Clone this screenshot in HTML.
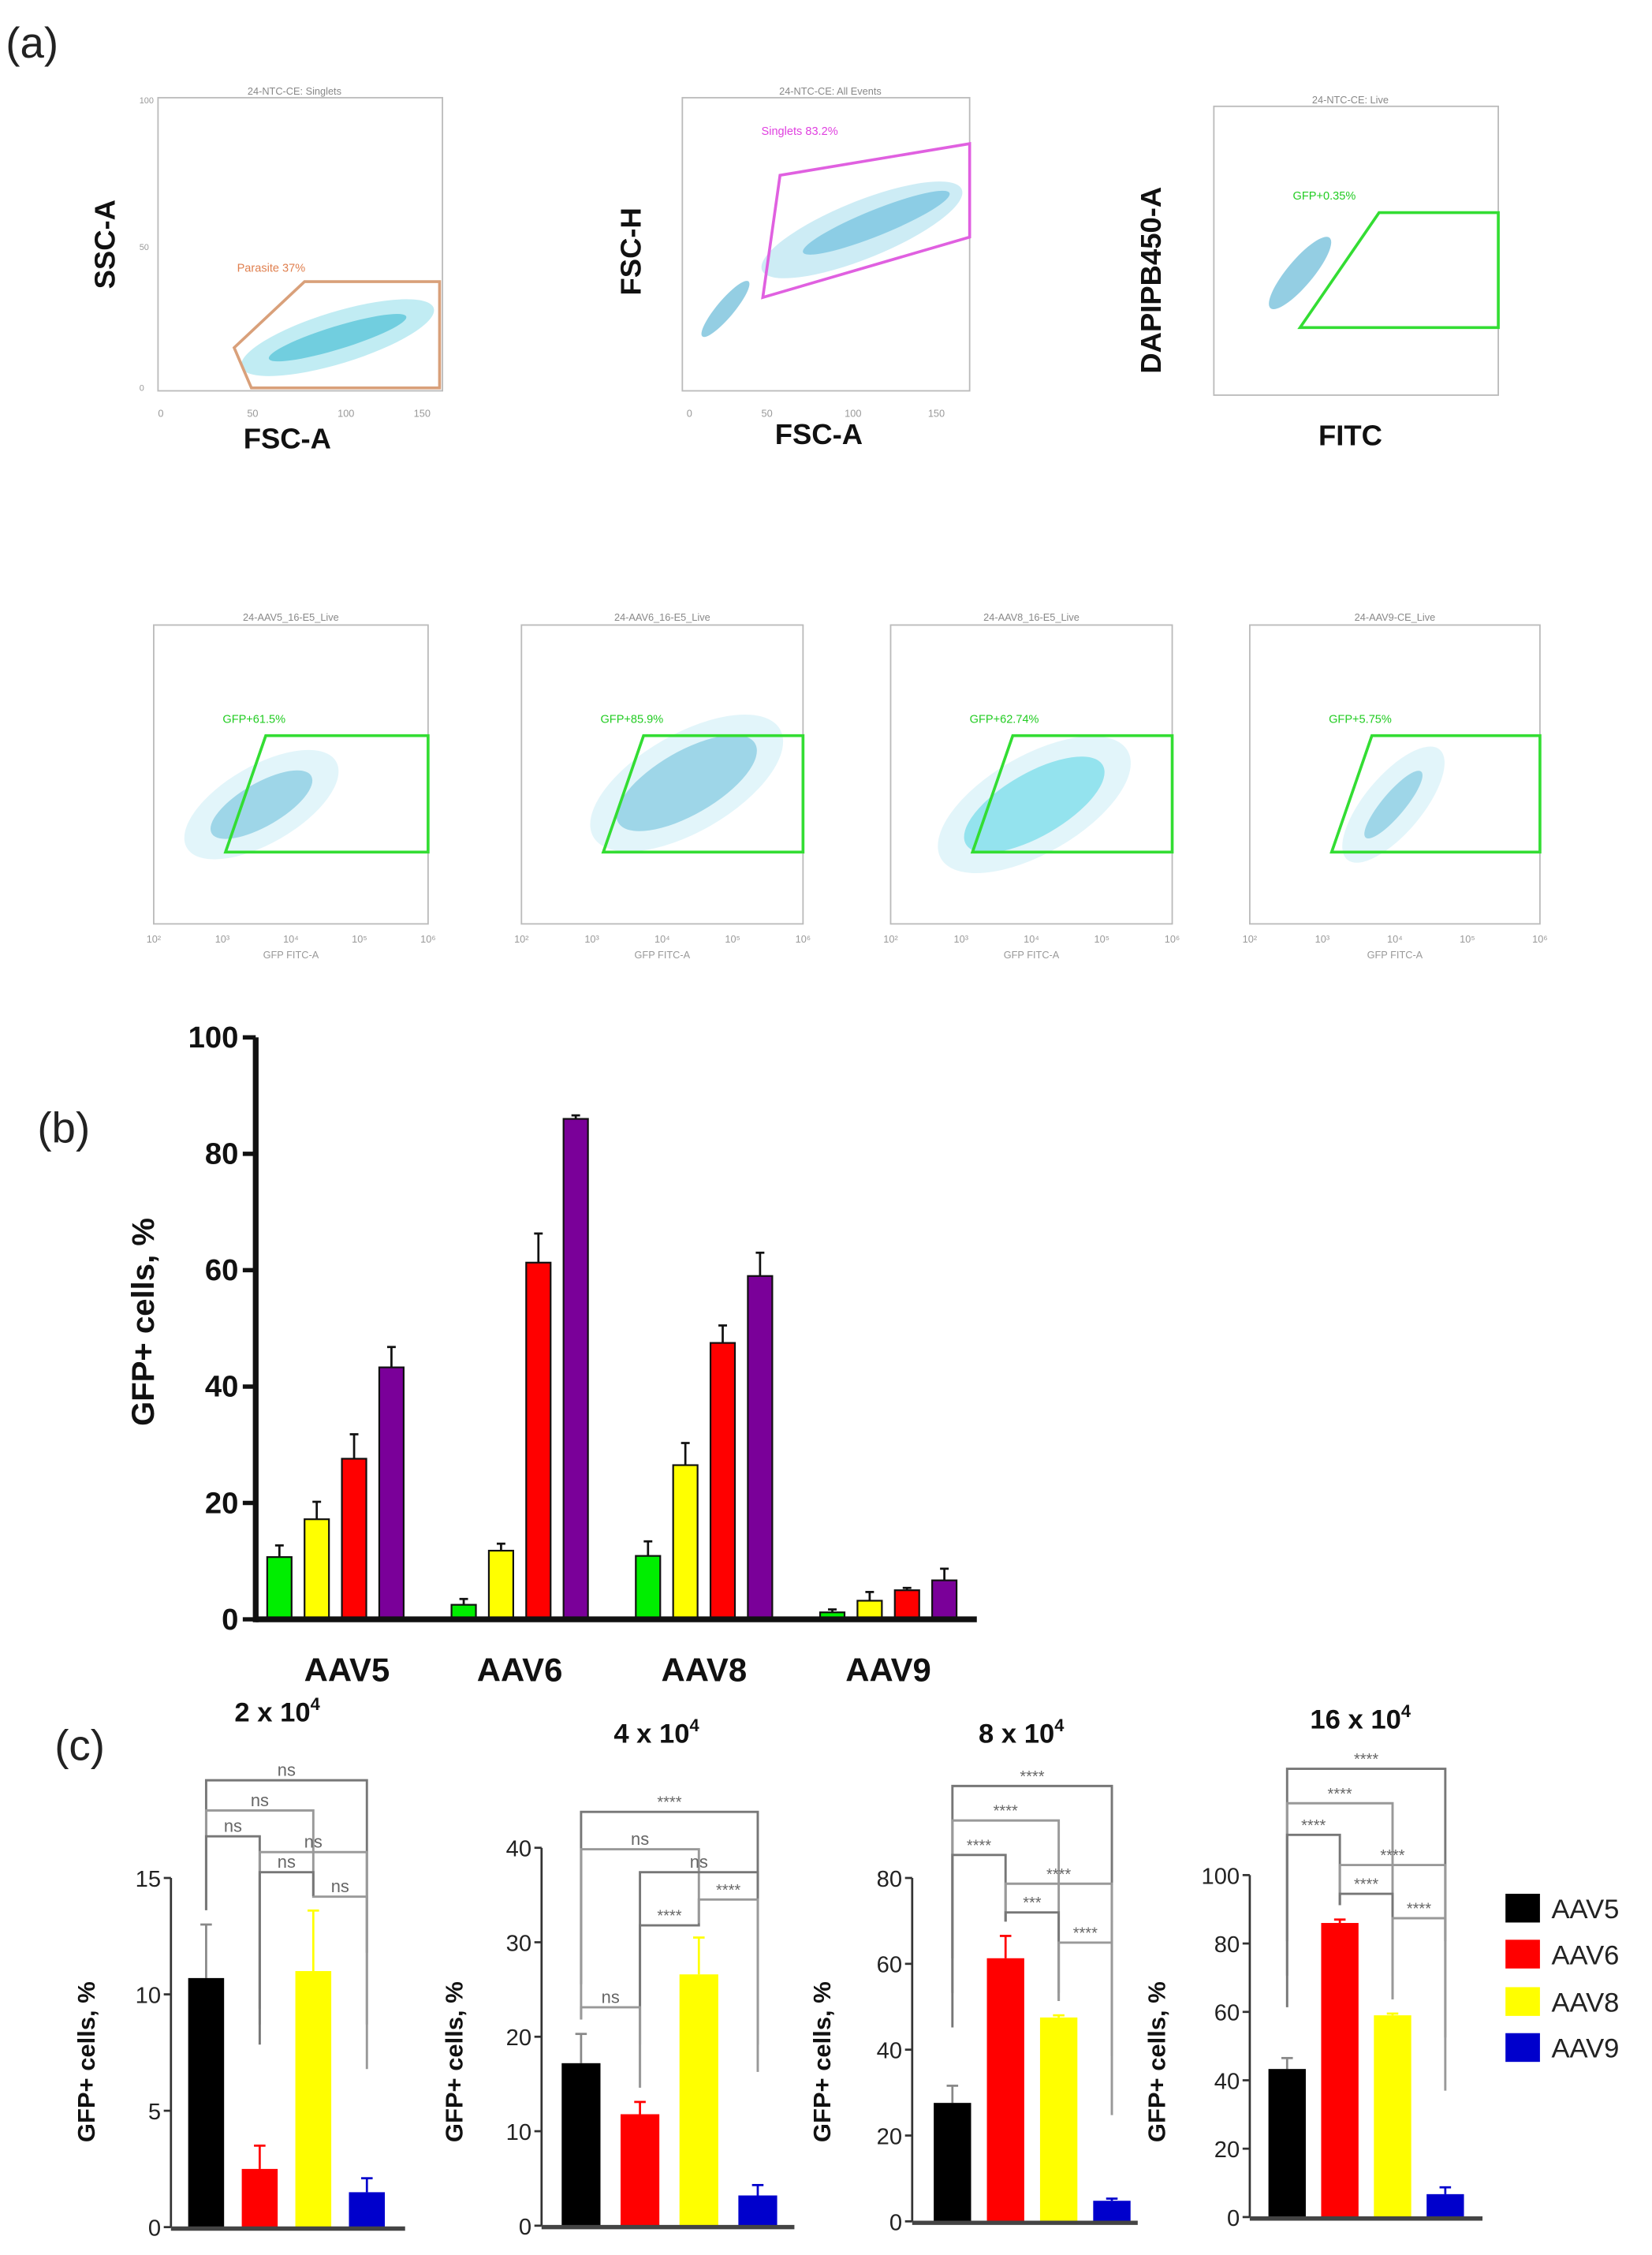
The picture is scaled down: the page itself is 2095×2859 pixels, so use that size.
<!DOCTYPE html>
<html><head><meta charset="utf-8"><style>
html,body{margin:0;padding:0;background:#fff}
svg{display:block}
text{font-family:"Liberation Sans",Arial,sans-serif}
</style></head><body>
<svg id="fig" xmlns="http://www.w3.org/2000/svg" width="2095" height="2859" viewBox="0 0 1150 1569.4" preserveAspectRatio="none">
<rect width="1150" height="1569.4" fill="#fff"/>
<text x="4" y="40" font-size="30" fill="#222">(a)</text>
<text x="26" y="795" font-size="30" fill="#222">(b)</text>
<text x="38" y="1225" font-size="30" fill="#222">(c)</text>

<!-- flow plots top row -->
<g>
<text x="205" y="66" font-size="7" fill="#888" text-anchor="middle">24-NTC-CE: Singlets</text>
<rect x="110" y="68" width="198" height="204" fill="none" stroke="#bbb" stroke-width="1"/>
<text x="97" y="72" font-size="6" fill="#999">100</text><text x="97" y="174" font-size="6" fill="#999">50</text><text x="97" y="272" font-size="6" fill="#999">0</text>
<text x="110" y="290" font-size="7" fill="#999">0</text><text x="172" y="290" font-size="7" fill="#999">50</text><text x="235" y="290" font-size="7" fill="#999">100</text><text x="288" y="290" font-size="7" fill="#999">150</text>
<ellipse cx="235" cy="235" rx="70" ry="18" transform="rotate(-17 235 235)" fill="#4cc8dd" opacity="0.35"/>
<ellipse cx="235" cy="235" rx="50" ry="8" transform="rotate(-17 235 235)" fill="#22b0cc" opacity="0.5"/>
<polygon points="163,242 212,196 306,196 306,270 175,270" fill="none" stroke="#d9a07a" stroke-width="2"/>
<text x="165" y="189" font-size="8" fill="#e08050">Parasite 37%</text>
<text x="80" y="170" font-size="20" font-weight="bold" fill="#111" text-anchor="middle" transform="rotate(-90 80 170)">SSC-A</text>
<text x="200" y="312" font-size="20" font-weight="bold" fill="#111" text-anchor="middle">FSC-A</text>
</g>
<g>
<text x="578" y="66" font-size="7" fill="#888" text-anchor="middle">24-NTC-CE: All Events</text>
<rect x="475" y="68" width="200" height="204" fill="none" stroke="#bbb" stroke-width="1"/>
<ellipse cx="505" cy="215" rx="25" ry="6" transform="rotate(-50 505 215)" fill="#2a9ec8" opacity="0.5"/>
<ellipse cx="600" cy="160" rx="75" ry="20" transform="rotate(-22 600 160)" fill="#5ac0dd" opacity="0.3"/>
<ellipse cx="610" cy="155" rx="55" ry="9" transform="rotate(-22 610 155)" fill="#2aa0cc" opacity="0.4"/>
<polygon points="531,207 543,122 675,100 675,165" fill="none" stroke="#e060e0" stroke-width="2"/>
<text x="530" y="94" font-size="8" fill="#e040e0">Singlets 83.2%</text>
<text x="478" y="290" font-size="7" fill="#999">0</text><text x="530" y="290" font-size="7" fill="#999">50</text><text x="588" y="290" font-size="7" fill="#999">100</text><text x="646" y="290" font-size="7" fill="#999">150</text>
<text x="446" y="175" font-size="20" font-weight="bold" fill="#111" text-anchor="middle" transform="rotate(-90 446 175)">FSC-H</text>
<text x="570" y="309" font-size="20" font-weight="bold" fill="#111" text-anchor="middle">FSC-A</text>
</g>
<g>
<text x="940" y="72" font-size="7" fill="#888" text-anchor="middle">24-NTC-CE: Live</text>
<rect x="845" y="74" width="198" height="201" fill="none" stroke="#bbb" stroke-width="1"/>
<ellipse cx="905" cy="190" rx="32" ry="9" transform="rotate(-50 905 190)" fill="#2a9ec8" opacity="0.5"/>
<polygon points="905,228 960,148 1043,148 1043,228" fill="none" stroke="#33dd33" stroke-width="2"/>
<text x="900" y="139" font-size="8" fill="#22cc22">GFP+0.35%</text>
<text x="808" y="195" font-size="20" font-weight="bold" fill="#111" text-anchor="middle" transform="rotate(-90 808 195)">DAPIPB450-A</text>
<text x="940" y="310" font-size="20" font-weight="bold" fill="#111" text-anchor="middle">FITC</text>
</g>
<g id="flowRow2"></g>

<g id="chartB"></g>
<g id="chartC"></g>
<g id="legend"></g>
</svg>
<script>
const NS="http://www.w3.org/2000/svg";
function mk(tag,attrs,parent,txt){const e=document.createElementNS(NS,tag);for(const k in attrs)e.setAttribute(k,attrs[k]);if(txt!==undefined)e.textContent=txt;parent.appendChild(e);return e;}

// ---- flow row 2 ----
const flowLabels=["GFP+61.5%","GFP+85.9%","GFP+62.74%","GFP+5.75%"];
const flowTitles=["24-AAV5_16-E5_Live","24-AAV6_16-E5_Live","24-AAV8_16-E5_Live","24-AAV9-CE_Live"];
const flowX=[107,363,620,870];
const fr=document.getElementById('flowRow2');
flowX.forEach((x0,i)=>{
  const g=mk('g',{},fr);
  
  
  const w=i===3?202:(i===0?191:196);
  mk('text',{x:x0+w/2,y:432,'font-size':7,fill:'#888','text-anchor':'middle'},g,flowTitles[i]);
  mk('rect',{x:x0,y:435,width:w,height:208,fill:'none',stroke:'#bbb','stroke-width':1},g);
  const cx=x0+(i===0?75:i===1?115:i===2?100:100), cy=i===1?545:560;
  const rx=i===3?30:(i===0?40:55), ry=i===3?8:(i===0?15:22);
  mk('ellipse',{cx:cx,cy:cy,rx:rx+20,ry:ry+12,transform:`rotate(${i===3?-50:-30} ${cx} ${cy})`,fill:'#8ad8ea',opacity:0.25},g);
  mk('ellipse',{cx:cx,cy:cy,rx:rx,ry:ry,transform:`rotate(${i===3?-50:-30} ${cx} ${cy})`,fill:i===2?'#20c8dd':'#3aa8cc',opacity:0.4},g);
  const gx=x0+(i===0?50:57);
  mk('polygon',{points:`${gx},593 ${gx+28},512 ${x0+w},512 ${x0+w},593`,fill:'none',stroke:'#33dd33','stroke-width':2},g);
  mk('text',{x:gx-2,y:503,'font-size':8,fill:'#22cc22'},g,flowLabels[i]);
  ['10\u00b2','10\u00b3','10\u2074','10\u2075','10\u2076'].forEach((t,k)=>{
    mk('text',{x:x0+k*w/4,y:656,'font-size':7,fill:'#999','text-anchor':'middle'},g,t);
  });
  mk('text',{x:x0+w/2,y:667,'font-size':7,fill:'#999','text-anchor':'middle'},g,'GFP FITC-A');
});

// ---- chart (b) ----
const bGroups=["AAV5","AAV6","AAV8","AAV9"];
const bDoseColors=["#00ee00","#ffff00","#ff0000","#7a0099"];
const bValues=[[10.7,17.2,27.6,43.3],[2.5,11.8,61.3,86.0],[10.9,26.5,47.5,59.0],[1.2,3.2,5.0,6.7]];
const bErrors=[[2.0,3.0,4.2,3.5],[1.0,1.2,5.0,0.6],[2.5,3.8,3.0,4.0],[0.5,1.5,0.4,2.0]];
const bTicks=[0,20,40,60,80,100];
const B={x0:178,y0:1127,yTop:722,max:100,gStart:186,gStep:128.3,bStep:26,bw:17,xEnd:680};
const byS=v=>B.y0-(v/B.max)*(B.y0-B.yTop);
const bxS=(g,j)=>B.gStart+g*B.gStep+j*B.bStep;
const cb=document.getElementById('chartB');
bValues.forEach((arr,g)=>arr.forEach((v,j)=>{
  const x=bxS(g,j), top=byS(v+bErrors[g][j]);
  const l=mk('line',{x1:x+B.bw/2,x2:x+B.bw/2,y1:byS(v),y2:top,stroke:'#111','stroke-width':1.5},cb);
  
  
  mk('line',{x1:x+B.bw/2-3,x2:x+B.bw/2+3,y1:top,y2:top,stroke:'#111','stroke-width':1.5},cb);
  const r=mk('rect',{x:x,y:byS(v),width:B.bw,height:B.y0-byS(v),fill:bDoseColors[j],stroke:'#111','stroke-width':1.2},cb);
  
  
}));
mk('line',{x1:B.x0,x2:B.x0,y1:B.yTop,y2:B.y0+2,stroke:'#111','stroke-width':4},cb);
mk('line',{x1:B.x0,x2:B.xEnd,y1:B.y0,y2:B.y0,stroke:'#111','stroke-width':4},cb);
bTicks.forEach(t=>{
  mk('line',{x1:B.x0-9,x2:B.x0,y1:byS(t),y2:byS(t),stroke:'#111','stroke-width':3},cb);
  const tx=mk('text',{x:B.x0-12,y:byS(t)+7,'font-size':21,'font-weight':'bold','text-anchor':'end',fill:'#111'},cb,t);
  
  
});
bGroups.forEach((n,g)=>{
  const tx=mk('text',{x:bxS(g,0)+B.bStep*1.5+B.bw/2+(g===0?8:0),y:1170,'font-size':23,'font-weight':'bold','text-anchor':'middle',fill:'#111'},cb,n);
  
  
});
const by=mk('text',{x:107,y:920,'font-size':22,'font-weight':'bold','text-anchor':'middle',fill:'#111',transform:'rotate(-90 107 920)'},cb,'GFP+ cells, %');



// ---- chart (c) ----
const cSerotypes=["AAV5","AAV6","AAV8","AAV9"];
const cColors=["#000000","#ff0000","#ffff00","#0000cc"];
const cTitles=["2 x 10","4 x 10","8 x 10","16 x 10"];
const cVals1=[10.7,2.5,11.0,1.5], cErr1=[2.3,1.0,2.6,0.6];
const cVals2=[17.2,11.8,26.6,3.2], cErr2=[3.1,1.3,3.9,1.1];
const cVals3=[27.6,61.3,47.5,4.8], cErr3=[4.0,5.2,0.5,0.5];
const cVals4=[43.3,86.0,59.0,6.7], cErr4=[3.2,1.0,0.5,2.0];
const cTicks1=[0,5,10,15], cTicks2=[0,10,20,30,40], cTicks3=[0,20,40,60,80], cTicks4=[0,20,40,60,80,100];
const cSig1=[[0,3,"ns"],[0,2,"ns"],[0,1,"ns"],[1,3,"ns"],[1,2,"ns"],[2,3,"ns"]];
const cSig2=[[0,3,"****"],[0,2,"ns"],[1,3,"ns"],[2,3,"****"],[1,2,"****"],[0,1,"ns"]];
const cSig3=[[0,3,"****"],[0,2,"****"],[0,1,"****"],[1,3,"****"],[1,2,"***"],[2,3,"****"]];
const cSig4=[[0,3,"****"],[0,2,"****"],[0,1,"****"],[1,3,"****"],[1,2,"****"],[2,3,"****"]];
const cData=[[cVals1,cErr1,cTicks1,cSig1],[cVals2,cErr2,cTicks2,cSig2],[cVals3,cErr3,cTicks3,cSig3],[cVals4,cErr4,cTicks4,cSig4]];
// layout (pixels)
const cLayout=[
 {ax:119,y0:1550,yTop:1307,max:15,bx:131,bstep:37.3,bw:25,xEnd:282,title:[193,1198],ylab:66,sigY:[1239,1260,1278,1289,1303,1320]},
 {ax:377,y0:1549,yTop:1286,max:40,bx:391,bstep:41,bw:27,xEnd:553,title:[457,1213],ylab:322,sigY:[1261,1287,1303,1322,1340,1397]},
 {ax:635,y0:1546,yTop:1307,max:80,bx:650,bstep:37,bw:26,xEnd:792,title:[711,1213],ylab:578,sigY:[1243,1267,1291,1311,1331,1352]},
 {ax:870,y0:1543,yTop:1305,max:100,bx:883,bstep:36.7,bw:26,xEnd:1032,title:[947,1203],ylab:811,sigY:[1231,1255,1277,1298,1318,1335]}
];
const cc=document.getElementById('chartC');
cData.forEach((d,ci)=>{
  const [vals,errs,ticks,sigs]=d, L=cLayout[ci];
  const g=mk('g',{},cc);
  
  
  const yS=v=>L.y0-(v/L.max)*(L.y0-L.yTop);
  const xS=i=>L.bx+i*L.bstep;
  vals.forEach((v,i)=>{
    const x=xS(i), top=yS(v+errs[i]);
    mk('line',{x1:x+L.bw/2,x2:x+L.bw/2,y1:yS(v),y2:top,stroke:i===0?'#888':cColors[i],'stroke-width':1.5},g);
    mk('line',{x1:x+L.bw/2-4,x2:x+L.bw/2+4,y1:top,y2:top,stroke:i===0?'#888':cColors[i],'stroke-width':1.5},g);
    const r=mk('rect',{x:x,y:yS(v),width:L.bw,height:L.y0-yS(v),fill:cColors[i]},g);
    
    
  });
  mk('line',{x1:L.ax,x2:L.ax,y1:L.yTop,y2:L.y0,stroke:'#333','stroke-width':1.5},g);
  mk('line',{x1:L.ax,x2:L.xEnd,y1:L.y0+1,y2:L.y0+1,stroke:'#444','stroke-width':3},g);
  ticks.forEach(t=>{
    mk('line',{x1:L.ax-5,x2:L.ax,y1:yS(t),y2:yS(t),stroke:'#333','stroke-width':1.5},g);
    const tx=mk('text',{x:L.ax-7,y:yS(t)+6,'font-size':16,'text-anchor':'end',fill:'#222'},g,t);
    
    
  });
  sigs.forEach((s,k)=>{
    const [a,b,lab]=s, y=L.sigY[k];
    const xa=xS(a)+L.bw/2, xb=xS(b)+L.bw/2;
    const col=k%2?'#999':'#777';
    const br=mk('path',{d:`M${xa},${Math.min(yS(vals[a]+errs[a])-10,y+120)}V${y}H${xb}V${Math.min(yS(vals[b]+errs[b])-10,y+120)}`,fill:'none',stroke:col,'stroke-width':1.6},g);
    
    
    mk('text',{x:(xa+xb)/2,y:y-3,'font-size':lab==='ns'?12:11,'text-anchor':'middle',fill:'#666'},g,lab);
  });
  const tt=mk('text',{x:L.title[0],y:L.title[1],'font-size':19,'font-weight':'bold','text-anchor':'middle',fill:'#111'},g);
  
  
  tt.appendChild(document.createTextNode(cTitles[ci]));
  mk('tspan',{dy:-8,'font-size':12},tt,'4');
  const yl=mk('text',{x:L.ylab,y:1435,'font-size':17,'font-weight':'bold','text-anchor':'middle',fill:'#111',transform:`rotate(-90 ${L.ylab} 1435)`},g,'GFP+ cells, %');
  
  
});
// legend
const lg=document.getElementById('legend');
const legY=[1328,1360,1393,1425];
cSerotypes.forEach((n,i)=>{
  const r=mk('rect',{x:1048,y:legY[i]-10,width:24,height:20,fill:cColors[i]},lg);
  
  
  const t=mk('text',{x:1080,y:legY[i]+7,'font-size':19,fill:'#222'},lg,n);
  
  
});
</script>
</body></html>
